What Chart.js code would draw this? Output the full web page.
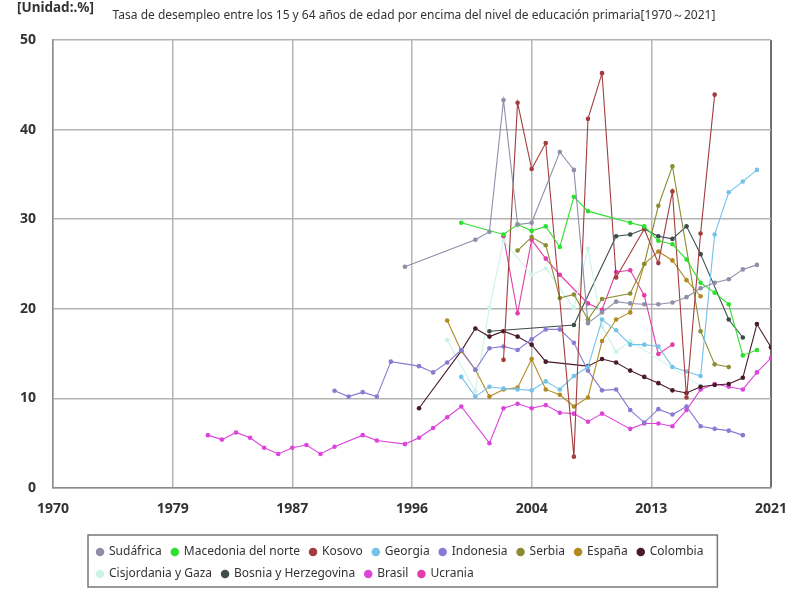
<!DOCTYPE html>
<html><head><meta charset="utf-8">
<script src="https://cdn.jsdelivr.net/npm/chart.js@4.4.1/dist/chart.umd.min.js"></script>
<style>html,body{margin:0;padding:0;background:#fff}</style>
</head><body>
<canvas id="c" width="800" height="600" style="width:800px;height:600px;display:block"></canvas>
<script>
const titleText = 'Tasa de desempleo entre los 15 y 64 años de edad por encima del nivel de educación primaria[1970～2021]';
const unitText = '[Unidad:.%]';
const xTickValues = [1970, 1978.5, 1987, 1995.5, 2004, 2012.5, 2021];

const sudafricaYears  = [1995,2000,2001,2002,2003,2004,2006,2007,2008,2009,2010,2011,2012,2013,2014,2015,2016,2017,2018,2019,2020];
const sudafricaValues = [24.7,27.7,28.6,43.3,29.4,29.6,37.5,35.5,18.4,19.6,20.8,20.6,20.5,20.5,20.7,21.3,22.3,22.9,23.3,24.4,24.9];

const macedoniaYears  = [1999,2002,2003,2004,2005,2006,2007,2008,2011,2012,2013,2014,2015,2016,2017,2018,2019,2020];
const macedoniaValues = [29.6,28.3,29.4,28.7,29.2,26.9,32.5,30.9,29.6,29.2,27.6,27.2,25.5,22.9,21.8,20.5,14.8,15.4];

const kosovoYears  = [2002,2003,2004,2005,2007,2008,2009,2010,2012,2013,2014,2015,2016,2017];
const kosovoValues = [14.3,43.0,35.6,38.5,3.5,41.2,46.3,23.5,28.9,25.1,33.1,10.1,28.4,43.9];

const georgiaYears  = [1999,2000,2001,2002,2003,2004,2005,2006,2007,2008,2009,2010,2011,2012,2013,2014,2015,2016,2017,2018,2019,2020];
const georgiaValues = [12.4,10.2,11.3,11.1,11.0,10.9,11.9,11.0,12.5,13.5,18.8,17.6,16.0,16.0,15.8,13.5,13.0,12.5,28.3,33.0,34.2,35.5];

const indonesiaYears  = [1990,1991,1992,1993,1994,1996,1997,1998,1999,2000,2001,2002,2003,2004,2005,2006,2007,2008,2009,2010,2011,2012,2013,2014,2015,2016,2017,2018,2019];
const indonesiaValues = [10.85,10.2,10.7,10.2,14.1,13.6,12.9,14.0,15.4,13.2,15.6,15.8,15.4,16.6,17.7,17.7,16.2,13.1,10.9,11.0,8.7,7.3,8.8,8.2,9.1,6.9,6.6,6.4,5.9];

const serbiaYears  = [2003,2004,2005,2006,2007,2008,2009,2011,2012,2013,2014,2016,2017,2018];
const serbiaValues = [26.5,28.0,27.1,21.2,21.6,18.8,21.1,21.7,25.0,31.5,35.9,17.5,13.8,13.5];

const espanaYears  = [1998,1999,2000,2001,2002,2003,2004,2005,2006,2007,2008,2009,2010,2011,2012,2013,2014,2015,2016];
const espanaValues = [18.7,15.3,13.2,10.2,11.0,11.2,14.4,11.0,10.4,9.1,10.1,16.4,18.8,19.6,25.0,26.4,25.4,23.2,21.4];

const colombiaYears  = [1996,1999,2000,2001,2002,2003,2004,2005,2008,2009,2010,2011,2012,2013,2014,2015,2016,2017,2018,2019,2020,2021];
const colombiaValues = [8.9,15.3,17.8,16.9,17.5,16.9,16.0,14.1,13.6,14.4,14.0,13.1,12.4,11.7,10.9,10.6,11.3,11.5,11.6,12.3,18.3,15.7];

const cisjordaniaYears  = [1998,2000,2001,2002,2004,2005,2007,2008,2009,2010,2011,2016];
const cisjordaniaValues = [16.5,10.8,20.1,27.6,23.8,24.5,20.1,26.7,18.0,15.2,16.4,11.4];

const bosniaYears  = [2001,2007,2010,2011,2012,2013,2014,2015,2016,2018,2019];
const bosniaValues = [17.5,18.2,28.1,28.3,28.9,28.1,27.8,29.2,26.1,18.8,16.8];

const brasilYears  = [1981,1982,1983,1984,1985,1986,1987,1988,1989,1990,1992,1993,1995,1996,1997,1998,1999,2001,2002,2003,2004,2005,2006,2007,2008,2009,2011,2012,2013,2014,2015,2016,2017,2018,2019,2020,2021];
const brasilValues = [5.9,5.4,6.2,5.6,4.5,3.8,4.5,4.8,3.8,4.6,5.9,5.3,4.9,5.6,6.7,7.9,9.1,5.0,8.9,9.4,8.9,9.25,8.4,8.3,7.4,8.3,6.6,7.2,7.2,6.9,8.7,11.0,11.6,11.3,11.0,12.9,14.5];

const ucraniaYears  = [2002,2003,2004,2005,2006,2008,2009,2010,2011,2012,2013,2014];
const ucraniaValues = [28.1,19.5,27.7,25.6,23.8,20.6,19.9,24.1,24.3,21.5,14.95,16.0];

const seriesNames  = ['Sudáfrica','Macedonia del norte','Kosovo','Georgia','Indonesia','Serbia','España','Colombia','Cisjordania y Gaza','Bosnia y Herzegovina','Brasil','Ucrania'];
const seriesYears  = [sudafricaYears,macedoniaYears,kosovoYears,georgiaYears,indonesiaYears,serbiaYears,espanaYears,colombiaYears,cisjordaniaYears,bosniaYears,brasilYears,ucraniaYears];
const seriesValues = [sudafricaValues,macedoniaValues,kosovoValues,georgiaValues,indonesiaValues,serbiaValues,espanaValues,colombiaValues,cisjordaniaValues,bosniaValues,brasilValues,ucraniaValues];
const seriesColors = ['#8e8fa8','#2ee02e','#a33c3c','#72c2ea','#8a7ad2','#8c8c32','#b38a22','#4a1a2a','#cdf3e8','#3d4d4a','#dc44dc','#e23ca8'];

const datasets = seriesNames.map((name, i) => ({
  label: name,
  data: seriesYears[i].map((yr, j) => ({x: yr, y: seriesValues[i][j]})),
  borderColor: seriesColors[i],
  backgroundColor: seriesColors[i],
  pointBackgroundColor: seriesColors[i],
  pointBorderColor: seriesColors[i],
  borderWidth: 1.1,
  pointRadius: 2.3,
  pointBorderWidth: 0,
  pointStyle: 'circle',
  tension: 0,
  fill: false
}));

const extras = {
  id: 'extras',
  beforeLayout(chart) {
    const lg = chart.legend;
    if (lg && !lg._wrapPatched) {
      const origFit = lg.fit;
      lg.fit = function () {
        const mw = this.maxWidth;
        this.maxWidth = Math.min(mw, 700);
        origFit.call(this);
        this.maxWidth = mw;
        this.width = mw;
      };
      lg._wrapPatched = true;
    }
  },
  afterLayout(chart) {
    if (chart.legend) { chart.legend.left = 87; }
  },
  afterDraw(chart) {
    const ctx = chart.ctx;
    ctx.save();
    ctx.fillStyle = '#333';
    ctx.textBaseline = 'middle';
    ctx.font = 'bold 13.5px "Noto Sans", sans-serif';
    ctx.textAlign = 'left';
    ctx.fillText(unitText, 17, 8);
    ctx.font = '12px "Noto Sans", sans-serif';
    ctx.textAlign = 'center';
    const ca = chart.chartArea;
    ctx.fillText(titleText, (ca.left + ca.right) / 2 + 2, 16);
    const lg = chart.legend;
    if (lg && lg.legendHitBoxes && lg.legendHitBoxes.length) {
      let l = Infinity, r = -Infinity;
      lg.legendHitBoxes.forEach(h => { l = Math.min(l, h.left); r = Math.max(r, h.left + h.width); });
      ctx.strokeStyle = '#777';
      ctx.lineWidth = 1.5;
      ctx.strokeRect(l - 9, lg.top - 1, (r - l) + 23, lg.height - 2);
    }
    ctx.restore();
  }
};

new Chart(document.getElementById('c'), {
  type: 'line',
  data: { datasets },
  plugins: [extras],
  options: {
    responsive: false,
    animation: false,
    events: [],
    layout: { padding: { top: 40, right: 29, left: 0, bottom: 10 } },
    scales: {
      x: {
        type: 'linear', min: 1970, max: 2021,
        afterBuildTicks: s => { s.ticks = xTickValues.map(v => ({value: v})); },
        afterFit: s => { s.height = 48; },
        ticks: { padding: 13, color: '#333', font: { size: 14, weight: 'bold', family: '"Noto Sans", sans-serif' }, callback: v => String(Math.round(v)), maxRotation: 0, autoSkip: false },
        grid: { color: c => (c.index === xTickValues.length - 1 ? '#707070' : '#b4b4b4'), lineWidth: c => (c.index === xTickValues.length - 1 ? 2 : 1.5), drawTicks: false },
        border: { color: '#8a8a8a', width: 1.5 }
      },
      y: {
        min: 0, max: 50,
        afterFit: s => { s.width = 53; },
        ticks: { stepSize: 10, padding: 17, color: '#333', font: { size: 14, weight: 'bold', family: '"Noto Sans", sans-serif' } },
        grid: { color: '#b4b4b4', lineWidth: 1.5, drawTicks: false },
        border: { color: '#8a8a8a', width: 1.5 }
      }
    },
    plugins: {
      title: { display: false },
      tooltip: { enabled: false },
      legend: {
        position: 'bottom',
        align: 'start',
        labels: { usePointStyle: true, pointStyle: 'circle', boxWidth: 6, boxHeight: 6, padding: 10, color: '#333', font: { size: 12, family: '"Noto Sans", sans-serif' } }
      }
    }
  }
});
</script>
</body></html>
